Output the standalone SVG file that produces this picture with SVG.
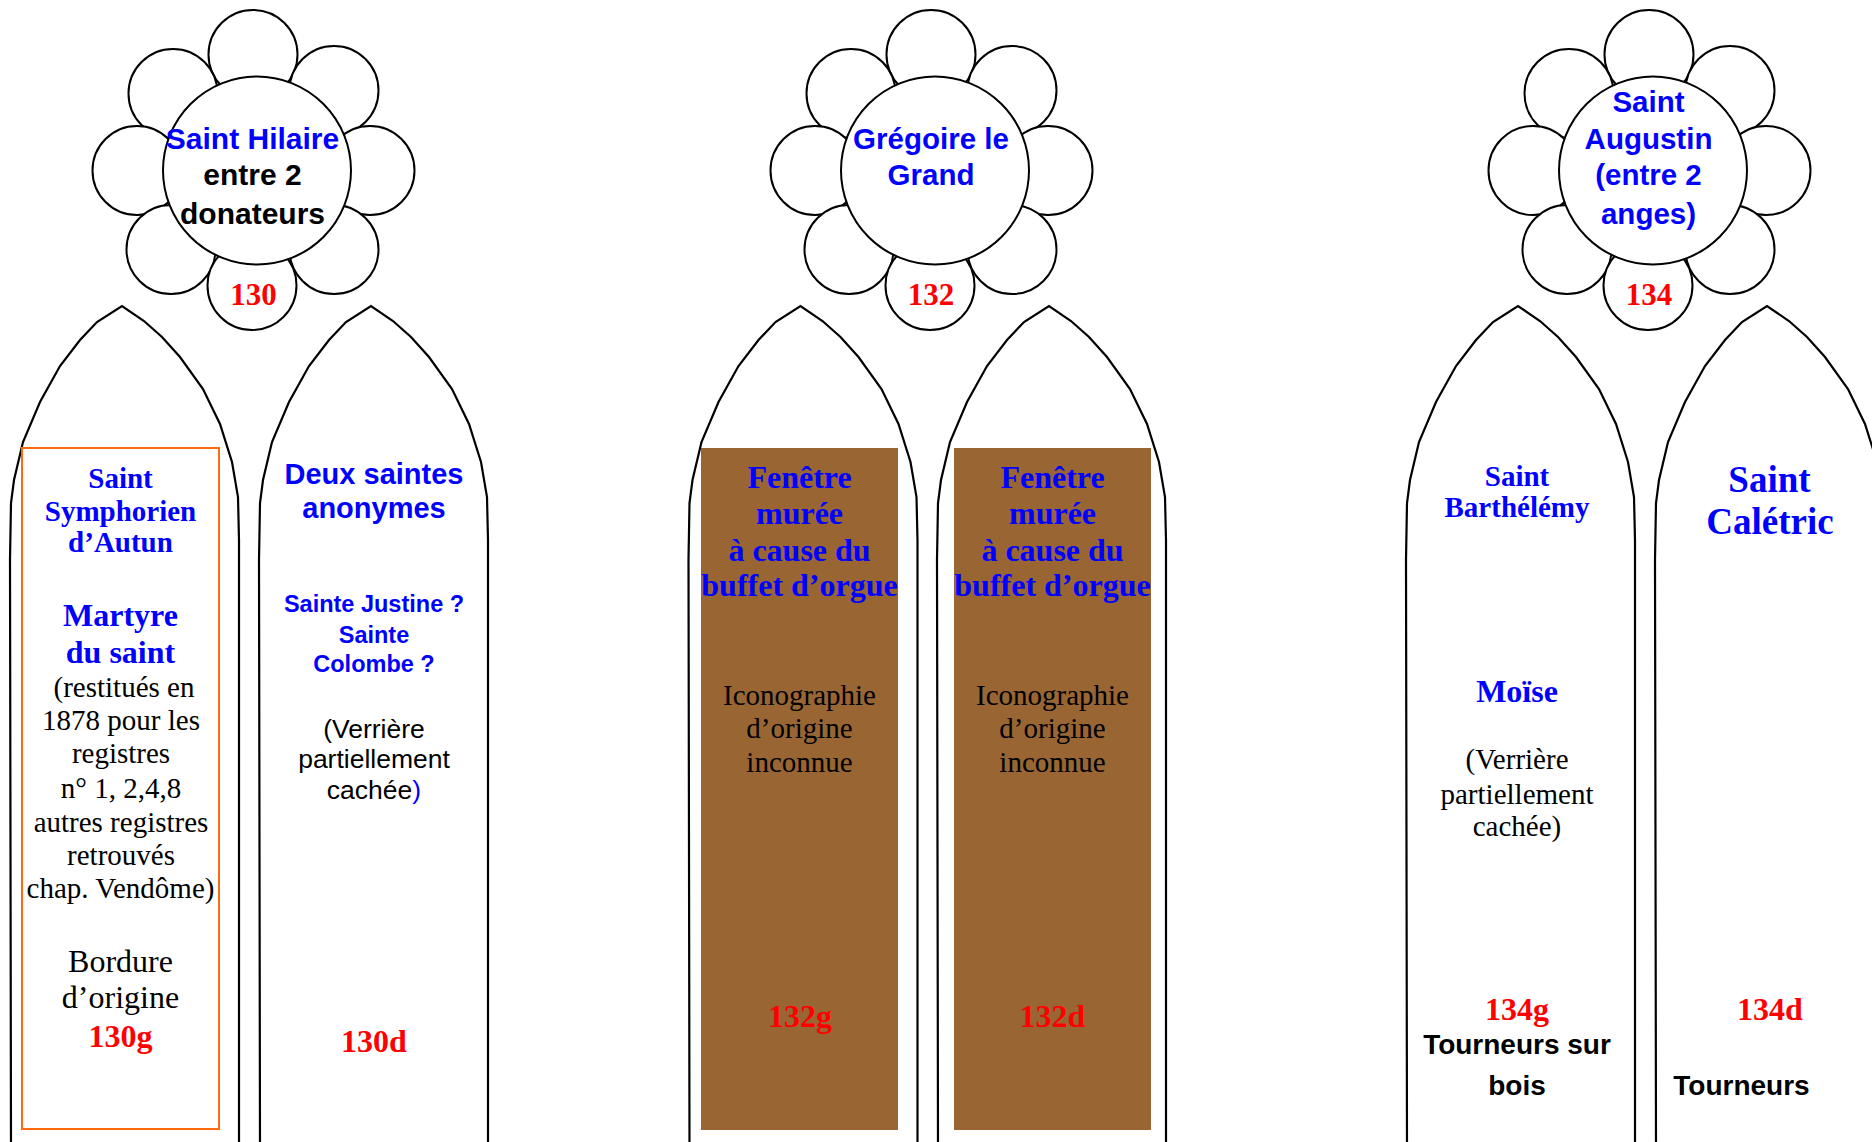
<svg xmlns="http://www.w3.org/2000/svg" xmlns:xlink="http://www.w3.org/1999/xlink" width="1872" height="1142" viewBox="0 0 1872 1142">
<style>
.ln{fill:#fff;stroke:#000;stroke-width:2}
.win{fill:none;stroke:#000;stroke-width:2.2;stroke-linejoin:miter}
.ss{font-family:"Liberation Sans",Arial,sans-serif;font-weight:bold;text-anchor:middle}
.sr{font-family:"Liberation Sans",Arial,sans-serif;font-weight:normal;text-anchor:middle}
.tb{font-family:"Liberation Serif","Times New Roman",serif;font-weight:bold;text-anchor:middle}
.tr{font-family:"Liberation Serif","Times New Roman",serif;font-weight:normal;text-anchor:middle}
.bl{fill:#0000ff}.rd{fill:#ff0000}.bk{fill:#000}
.brown{fill:#996633}
</style>
<defs>
<g id="petals">
<circle class="ln" cx="0" cy="-116" r="44.5"/>
<circle class="ln" cx="81" cy="-80" r="44.5"/>
<circle class="ln" cx="-80" cy="-77" r="44.5"/>
<circle class="ln" cx="117" cy="0" r="44.5"/>
<circle class="ln" cx="-116" cy="0" r="44.5"/>
<circle class="ln" cx="81" cy="79" r="44.5"/>
<circle class="ln" cx="-82" cy="79" r="44.5"/>
<circle class="ln" cx="-1" cy="115" r="44.5"/>
<circle class="ln" cx="4" cy="0" r="94"/>
</g>
<path id="lancet" class="win" d="M -111,1146 L -112,560 L -111,503 L -108,480 L -99,442 L -82,402 L -62,366 L -42,340 L -25,322 L 0,306 L 22,321 L 40,337 L 58,357 L 81,389 L 98,424 L 110,462 L 116,497 L 117,540 L 117,1146"/>
</defs>

<g id="connectors"></g>

<g id="rose130">
<use xlink:href="#petals" href="#petals" transform="translate(253,170.5)"/>
<text class="ss bl" x="252.5" y="149" font-size="30">Saint Hilaire</text>
<text class="ss bk" x="252.5" y="185" font-size="30">entre 2</text>
<text class="ss bk" x="252.5" y="224" font-size="30">donateurs</text>
<text class="tb rd" x="253.5" y="305" font-size="31">130</text>
</g>

<g id="rose132">
<use xlink:href="#petals" href="#petals" transform="translate(931,170.5)"/>
<text class="ss bl" x="931" y="149" font-size="29.5">Grégoire le</text>
<text class="ss bl" x="931" y="185" font-size="29.5">Grand</text>
<text class="tb rd" x="931" y="305" font-size="31">132</text>
</g>

<g id="rose134">
<use xlink:href="#petals" href="#petals" transform="translate(1649,170.5)"/>
<text class="ss bl" x="1648.5" y="112" font-size="29.5">Saint</text>
<text class="ss bl" x="1648.5" y="149" font-size="29.5">Augustin</text>
<text class="ss bl" x="1648.5" y="185" font-size="29.5">(entre 2</text>
<text class="ss bl" x="1648.5" y="224" font-size="29.5">anges)</text>
<text class="tb rd" x="1649" y="305" font-size="31">134</text>
</g>

<g id="win130g">
<use xlink:href="#lancet" href="#lancet" transform="translate(122,0)"/>
<rect x="22" y="448" width="197" height="681" fill="none" stroke="#ff6a10" stroke-width="2"/>
<text class="tb bl" x="120.5" y="487.5" font-size="29">Saint</text>
<text class="tb bl" x="120.5" y="520.5" font-size="29">Symphorien</text>
<text class="tb bl" x="120.5" y="552" font-size="29">d’Autun</text>
<text class="tb bl" x="120.5" y="626" font-size="32">Martyre</text>
<text class="tb bl" x="120.5" y="662.5" font-size="32">du saint</text>
<text class="tr bk" x="124" y="697" font-size="29">(restitués en</text>
<text class="tr bk" x="121" y="730" font-size="29">1878 pour les</text>
<text class="tr bk" x="121" y="763" font-size="29">registres</text>
<text class="tr bk" x="121" y="797.5" font-size="29">n° 1, 2,4,8</text>
<text class="tr bk" x="121" y="831.5" font-size="29">autres registres</text>
<text class="tr bk" x="121" y="865" font-size="29">retrouvés</text>
<text class="tr bk" x="120.5" y="898" font-size="29">chap. Vendôme)</text>
<text class="tr bk" x="120.5" y="971.5" font-size="32">Bordure</text>
<text class="tr bk" x="120.5" y="1008" font-size="32">d’origine</text>
<text class="tb rd" x="120.5" y="1047" font-size="32">130g</text>
</g>

<g id="win130d">
<use xlink:href="#lancet" href="#lancet" transform="translate(371,0)"/>
<text class="ss bl" x="374" y="484.3" font-size="29">Deux saintes</text>
<text class="ss bl" x="374" y="518" font-size="29">anonymes</text>
<text class="ss bl" x="374" y="612" font-size="23.5">Sainte Justine ?</text>
<text class="ss bl" x="374" y="643.3" font-size="23.5">Sainte</text>
<text class="ss bl" x="374" y="671.7" font-size="23.5">Colombe ?</text>
<text class="sr bk" x="374" y="738" font-size="26.5">(Verrière</text>
<text class="sr bk" x="374" y="768" font-size="26.5">partiellement</text>
<text class="sr bk" x="374" y="799" font-size="26.5">cachée<tspan class="bl">)</tspan></text>
<text class="tb rd" x="374" y="1052" font-size="32">130d</text>
</g>

<g id="win132g">
<use xlink:href="#lancet" href="#lancet" transform="translate(800.5,0)"/>
<rect class="brown" x="701" y="448" width="197" height="682"/>
<text class="tb bl" x="799.5" y="487.5" font-size="32">Fenêtre</text>
<text class="tb bl" x="799.5" y="524" font-size="32">murée</text>
<text class="tb bl" x="799.5" y="561" font-size="32">à cause du</text>
<text class="tb bl" x="799.5" y="595.5" font-size="32">buffet d’orgue</text>
<text class="tr bk" x="799.5" y="705" font-size="29">Iconographie</text>
<text class="tr bk" x="799.5" y="738" font-size="29">d’origine</text>
<text class="tr bk" x="799.5" y="771.5" font-size="29">inconnue</text>
<text class="tb rd" x="800" y="1027" font-size="32">132g</text>
</g>

<g id="win132d">
<use xlink:href="#lancet" href="#lancet" transform="translate(1049,0)"/>
<rect class="brown" x="954" y="448" width="197" height="682"/>
<text class="tb bl" x="1052.5" y="487.5" font-size="32">Fenêtre</text>
<text class="tb bl" x="1052.5" y="524" font-size="32">murée</text>
<text class="tb bl" x="1052.5" y="561" font-size="32">à cause du</text>
<text class="tb bl" x="1052.5" y="595.5" font-size="32">buffet d’orgue</text>
<text class="tr bk" x="1052.5" y="705" font-size="29">Iconographie</text>
<text class="tr bk" x="1052.5" y="738" font-size="29">d’origine</text>
<text class="tr bk" x="1052.5" y="771.5" font-size="29">inconnue</text>
<text class="tb rd" x="1052.5" y="1027" font-size="32">132d</text>
</g>

<g id="win134g">
<use xlink:href="#lancet" href="#lancet" transform="translate(1518,0)"/>
<text class="tb bl" x="1517" y="486" font-size="29">Saint</text>
<text class="tb bl" x="1517" y="517" font-size="29">Barthélémy</text>
<text class="tb bl" x="1517" y="702" font-size="32">Moïse</text>
<text class="tr bk" x="1517" y="769" font-size="29">(Verrière</text>
<text class="tr bk" x="1517" y="803.5" font-size="29">partiellement</text>
<text class="tr bk" x="1517" y="836" font-size="29">cachée)</text>
<text class="tb rd" x="1517" y="1020" font-size="32">134g</text>
<text class="ss bk" x="1517" y="1054" font-size="28">Tourneurs sur</text>
<text class="ss bk" x="1517" y="1094.5" font-size="28">bois</text>
</g>

<g id="win134d">
<use xlink:href="#lancet" href="#lancet" transform="translate(1767,0)"/>
<text class="tb bl" x="1769.5" y="492.3" font-size="37">Saint</text>
<text class="tb bl" x="1770" y="534.3" font-size="37">Calétric</text>
<text class="tb rd" x="1770" y="1020" font-size="32">134d</text>
<text class="ss bk" x="1741.5" y="1094.5" font-size="28">Tourneurs</text>
</g>
</svg>
